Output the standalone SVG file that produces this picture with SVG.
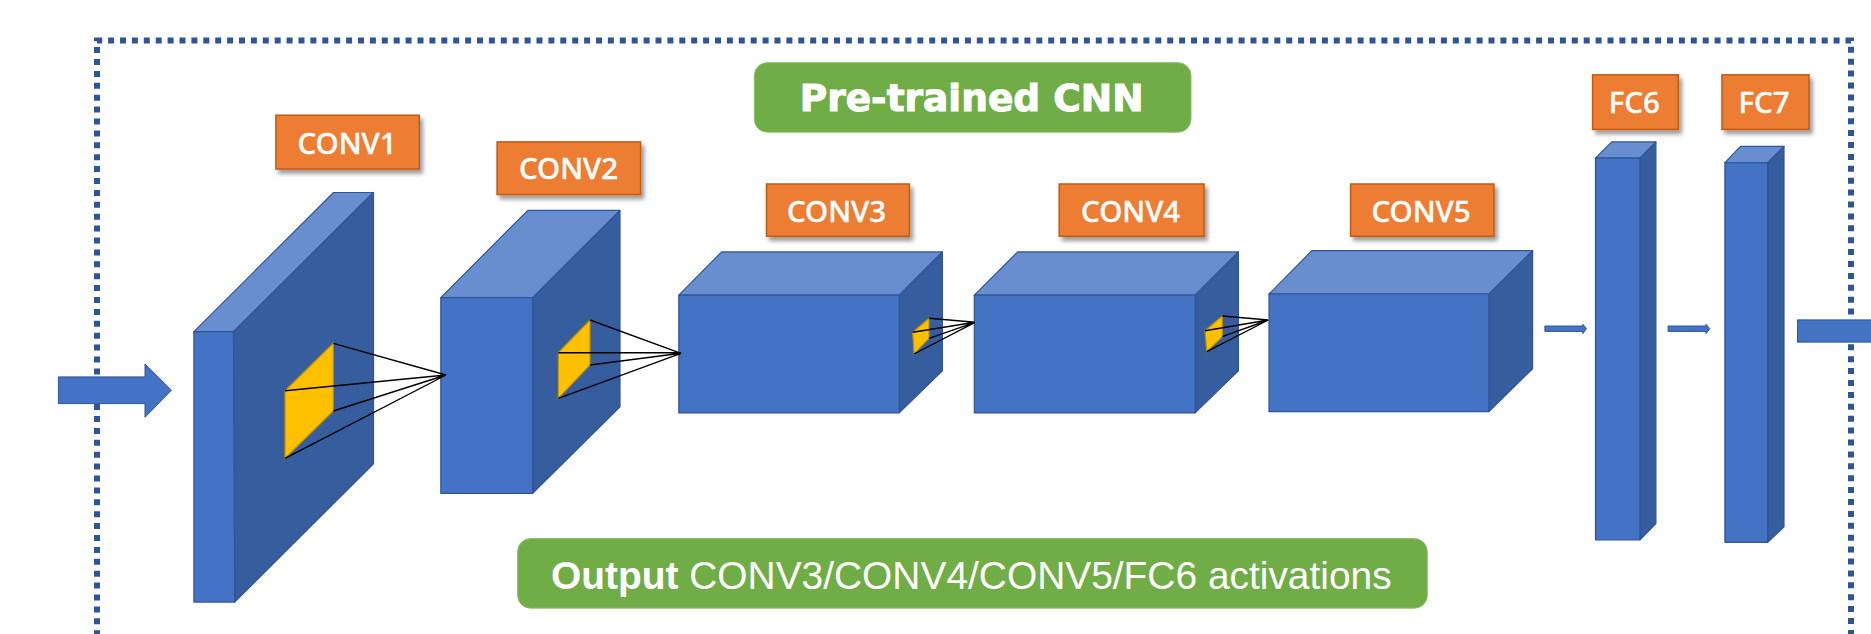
<svg xmlns="http://www.w3.org/2000/svg" width="1871" height="634" viewBox="0 0 1871 634">
<style>
.bg{fill:#fff}
.frame{fill:none;stroke:#2F5597;stroke-width:6;stroke-dasharray:6 5.9}
.front{fill:#4472C4}
.top{fill:#698ECF}
.side{fill:#365E9F}
.edge{stroke:#2F5597;stroke-width:1.2;stroke-linejoin:round}
.patch{fill:#FFC000;stroke:#BF9000;stroke-width:1.2}
.tag{fill:#ED7D31;stroke:#C55A11;stroke-width:1.5;filter:url(#sh)}
.tagt{font-family:"Noto Sans","Liberation Sans",sans-serif;font-size:29.5px;font-weight:500;fill:#fff;stroke:#fff;stroke-width:0.4;text-anchor:middle;dominant-baseline:central}
.pill{fill:#70AD47;stroke:#8CBF6B;stroke-width:1}
.arrow{fill:#4472C4;stroke:#2F5597;stroke-width:1}
.fan{fill:none;stroke:#000;stroke-width:1.4}
</style>
<defs>
<filter id="sh" x="-10%" y="-10%" width="125%" height="135%"><feDropShadow dx="3" dy="4" stdDeviation="2.2" flood-color="#000" flood-opacity="0.4"/></filter>
</defs>
<rect class="bg" width="1871" height="634"/>
<g id="frame"><path class="frame" d="M97 660V40.400H1851V660"/></g>

<g id="conv1-block">
<polygon class="top edge" points="193.900,331.600 333.500,192.500 373.500,192.500 233.500,331.600"/>
<polygon class="side edge" points="233.500,331.600 373.500,192.500 373.500,463.800 234.700,602.100"/>
<polygon class="front edge" points="193.900,331.600 233.500,331.600 234.700,602.100 193.900,602.100"/>
<polygon class="patch" points="285,390.700 333.300,343.300 333.300,411 285,458.300"/>
</g>
<g id="conv2-block">
<polygon class="top edge" points="440.800,297.600 527.800,210.300 620,210.300 532.700,297.600"/>
<polygon class="side edge" points="532.700,297.600 620,210.300 620,406.800 532.700,493.300"/>
<polygon class="front edge" points="440.800,297.600 532.700,297.600 532.700,493.300 440.800,493.300"/>
<polygon class="patch" points="558.300,352.700 590,320 590,365 558.300,398.300"/>
</g>
<g id="conv3-block">
<polygon class="top edge" points="678.800,295.200 721.600,251.900 942.400,251.900 899.200,295.200"/>
<polygon class="side edge" points="899.200,295.200 942.400,251.900 942.400,370.800 899.200,412.900"/>
<polygon class="front edge" points="678.800,295.200 899.200,295.200 899.200,412.900 678.800,412.900"/>
<polygon class="patch" points="912.700,332.300 929,318.300 929,338.300 914,354"/>
</g>
<g id="conv4-block">
<polygon class="top edge" points="974.300,295.200 1017.600,251.900 1238.400,251.900 1195.100,295.200"/>
<polygon class="side edge" points="1195.100,295.200 1238.400,251.900 1238.400,370.800 1195.100,412.900"/>
<polygon class="front edge" points="974.300,295.200 1195.100,295.200 1195.100,412.900 974.300,412.900"/>
<polygon class="patch" points="1205,330.700 1222.300,316 1222.300,336.700 1206.700,351.700"/>
</g>
<g id="conv5-block">
<polygon class="top edge" points="1269,294 1311.800,250.700 1532.600,250.700 1489,294"/>
<polygon class="side edge" points="1489,294 1532.600,250.700 1532.600,368.800 1489,411.600"/>
<polygon class="front edge" points="1269,294 1489,294 1489,411.600 1269,411.600"/>
</g>
<g id="fc6-block">
<polygon class="top edge" points="1595.500,158.100 1611.800,141.900 1655.900,141.900 1640,158.100"/>
<polygon class="side edge" points="1640,158.100 1655.900,141.900 1655.900,523.700 1640,539.800"/>
<polygon class="front edge" points="1595.500,158.100 1640,158.100 1640,539.800 1595.500,539.800"/>
</g>
<g id="fc7-block">
<polygon class="top edge" points="1724.900,162.600 1740.400,146.400 1784,146.400 1767.700,162.600"/>
<polygon class="side edge" points="1767.700,162.600 1784,146.400 1784,526.900 1767.700,542.300"/>
<polygon class="front edge" points="1724.900,162.600 1767.700,162.600 1767.700,542.300 1724.900,542.300"/>
</g>

<g id="conv1-label"><rect class="tag" x="275.900" y="115.200" width="143.300" height="53.800"/><text class="tagt" x="347" y="142.500">CONV1</text></g>
<g id="conv2-label"><rect class="tag" x="497.100" y="141.900" width="143.500" height="52.600"/><text class="tagt" x="568.500" y="167.800">CONV2</text></g>
<g id="conv3-label"><rect class="tag" x="766.500" y="184" width="142.900" height="52.200"/><text class="tagt" x="836.500" y="210">CONV3</text></g>
<g id="conv4-label"><rect class="tag" x="1059.200" y="184" width="144.800" height="52.200"/><text class="tagt" x="1130.600" y="210">CONV4</text></g>
<g id="conv5-label"><rect class="tag" x="1350.600" y="184" width="143.300" height="52.200"/><text class="tagt" x="1421" y="210">CONV5</text></g>
<g id="fc6-label"><rect class="tag" x="1592.600" y="74.800" width="85.700" height="54.600"/><text class="tagt" x="1634.300" y="101">FC6</text></g>
<g id="fc7-label"><rect class="tag" x="1722" y="74.800" width="87" height="54.600"/><text class="tagt" x="1764" y="101">FC7</text></g>

<g id="title"><rect class="pill" x="754.300" y="62.700" width="436.700" height="69.500" rx="13"/><text x="971.600" y="111.200" font-family="'DejaVu Sans',sans-serif" font-weight="700" font-size="37.500" fill="#fff" stroke="#fff" stroke-width="1" text-anchor="middle">Pre-trained CNN</text></g>
<g id="output"><rect class="pill" x="517.600" y="538.600" width="909.700" height="69.600" rx="13"/><text x="551" y="588.500" font-family="'Liberation Sans',Arial,sans-serif" font-size="38.900" fill="#fff"><tspan font-weight="700">Output</tspan> CONV3/CONV4/CONV5/FC6 activations</text></g>

<g id="connectors">
<path class="fan" d="M333.300 343.300L446 375M285 390.700L446 375M333.300 411L446 375M285 458.300L446 375"/>
<path class="fan" d="M590 320L681 353.300M558.300 352.700H681M590 365L681 353.300M558.300 398.300L681 353.300"/>
<path class="fan" d="M929 318.300L975 322.300M912.700 332.300L975 322.300M929 338.300L975 322.300M914 354L975 322.300"/>
<path class="fan" d="M1222.300 316L1268.300 320M1205 330.700L1268.300 320M1222.300 336.700L1268.300 320M1206.700 351.700L1268.300 320"/>
<polygon class="arrow" points="58.400,376.900 145,376.900 145,364 171.400,390.200 145,417.300 145,403.600 58.400,403.600"/>
<polygon class="arrow" points="1544.900,326 1582.800,326 1582.800,324.300 1586.500,328.700 1582.800,333.600 1582.800,331.400 1544.900,331.400"/>
<polygon class="arrow" points="1668.100,326 1706,326 1706,324.300 1709.800,328.700 1706,333.600 1706,331.400 1668.100,331.400"/>
<rect class="arrow" x="1797.500" y="319.900" width="80" height="22.200"/>
</g>
</svg>
